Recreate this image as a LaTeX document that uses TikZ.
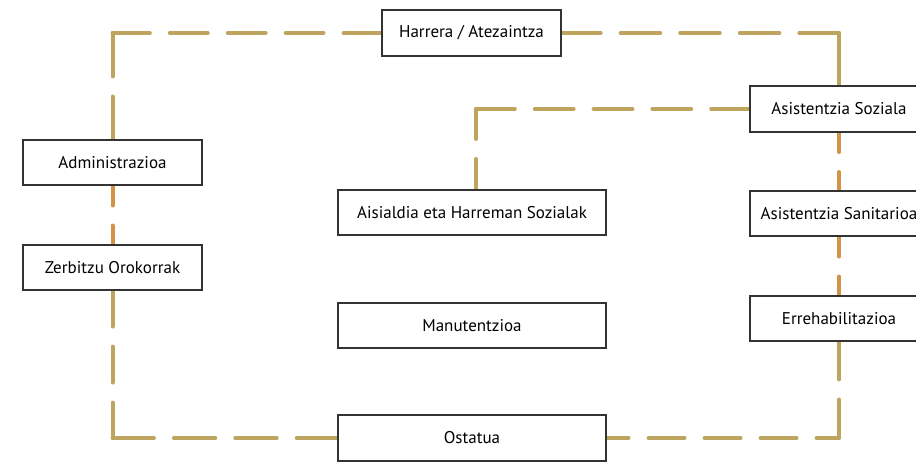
\documentclass[tikz,border=0pt]{standalone}
\usepackage{fontspec}
\setmainfont{PT Sans}
\definecolor{gold}{RGB}{189,164,95}
\definecolor{amber}{RGB}{212,146,70}
\pgfdeclarelayer{background}
\pgfsetlayers{background,main}
\begin{document}
\begin{tikzpicture}[x=1pt,y=-1pt,
  box/.style={draw=black!80, line width=1.1pt, fill=white, minimum height=45pt, inner sep=0pt, font=\fontsize{17}{20}\selectfont},
  sbox/.style={box, minimum width=179pt},
  rbox/.style={box, minimum width=178pt},
  wbox/.style={box, minimum width=268pt},
  link/.style={gold, line width=4pt, line cap=round},
  olink/.style={amber, line width=4pt, line cap=round},
  pat/.style 2 args={dash pattern=on #1pt off #2pt}
]
\useasboundingbox (0,0) rectangle (916,462);
\clip (0,0) rectangle (916,462);

\node[sbox, minimum height=46pt] (harrera) at (471.5,33) {Harrera / Atezaintza};
\node[sbox] (admin) at (112.5,162.5) {Administrazioa};
\node[sbox] (zerb) at (112.5,267.5) {Zerbitzu Orokorrak};
\node[wbox] (aisi) at (472,212.5) {Aisialdia eta Harreman Sozialak};
\node[wbox] (manu) at (472,325.5) {Manutentzioa};
\node[wbox, minimum height=46pt] (ostatua) at (472,438) {Ostatua};
\node[rbox, minimum height=46pt] (soz) at (839,109) {Asistentzia Soziala};
\node[rbox] (sani) at (839,213.5) {Asistentzia Sanitarioa};
\node[rbox] (erre) at (839,318.5) {Errehabilitazioa};

\coordinate (c1) at (admin.north |- harrera.west);
\coordinate (c2) at (soz.north |- harrera.east);
\coordinate (c3) at (zerb.south |- ostatua.west);
\coordinate (c4) at (erre.south |- ostatua.east);
\coordinate (c5) at (476,109);

\begin{pgfonlayer}{background}
\draw[link, pat={37.9}{20}] (harrera.west) -- (c1);
\draw[link, pat={43.5}{20}] (c1) -- (admin.north);
\draw[olink, pat={20}{20}] (admin.south) -- (zerb.north);
\draw[link, pat={36}{20}] (zerb.south) -- (c3);
\draw[link, pat={41.4}{20}] (c3) -- (ostatua.west);
\draw[link, dash pattern=on 36pt off 20pt, dash phase=14pt] (ostatua.east) -- (c4);
\draw[link, pat={38.5}{20}] (c4) -- (erre.south);
\draw[olink, pat={20}{20}] (sani.south) -- (erre.north);
\draw[olink, pat={19.5}{20}] (soz.south) -- (sani.north);
\draw[link] (soz.north) -- (c2);
\draw[link, pat={39.6}{20}] (c2) -- (harrera.east);
\draw[link, pat={30.5}{20}] (aisi.north -| c5) -- (c5);
\draw[link, pat={38.8}{20}] (c5) -- (soz.west);
\end{pgfonlayer}
\end{tikzpicture}
\end{document}
